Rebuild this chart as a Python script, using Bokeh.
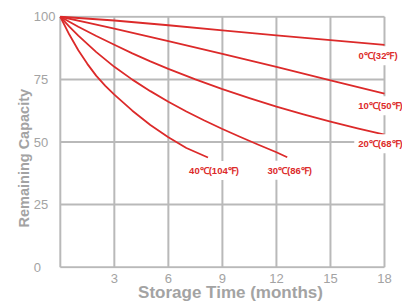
from bokeh.plotting import figure
from bokeh.models import Range1d, FixedTicker, Label, Title
from bokeh.embed import file_html
from bokeh.resources import INLINE

# ---- data ----
months_0 = [0, 3, 6, 9, 12, 15, 18]
cap_0 = [100, 98.5, 96.6, 94.6, 92.6, 90.7, 88.8]
months_10 = [0, 1.5, 3, 4.5, 6, 9, 12, 15, 18]
cap_10 = [100, 97.7, 95.3, 92.8, 90.3, 85.2, 80, 74.6, 69.3]
months_20 = [0, 1, 2, 3, 4, 5, 6, 7.5, 9, 10.5, 12, 13.5, 15, 16.5, 18]
cap_20 = [100, 96.0, 92.3, 88.8, 85.4, 82.2, 79.2, 75.0, 71.1, 67.5, 64.1, 61.0, 58.1, 55.4, 52.9]
months_30 = [0, 0.5, 1, 2, 3, 4, 5, 6, 7, 8, 9, 10, 11, 12, 12.6]
cap_30 = [100, 96.1, 92.5, 85.9, 80.0, 74.9, 70.3, 66.1, 62.2, 58.6, 55.2, 52.0, 48.9, 45.9, 43.9]
months_40 = [0, 0.5, 1, 1.5, 2, 2.5, 3, 4, 5, 6, 7, 8.2]
cap_40 = [100, 92.9, 86.6, 81.2, 76.4, 72.4, 68.9, 62.5, 56.8, 51.9, 47.6, 43.8]
series_labels = ["0℃(32℉)", "10℃(50℉)", "20℃(68℉)", "30℃(86℉)", "40℃(104℉)"]
x_ticks = [3, 6, 9, 12, 15, 18]
grid_x = [0, 3, 6, 9, 12, 15, 18]
y_ticks = [0, 25, 50, 75, 100]
y_tick_labels = ["0", "25", "50", "75", "100"]

RED = "#dc2a2a"
GRID = "#b9b9b9"
TXT = "#a3a3a3"
FONT = "Liberation Sans"

p = figure(width=402, height=305, output_backend="svg", toolbar_location=None,
           x_range=Range1d(-0.1, 19), y_range=Range1d(-0.5, 100.5),
           min_border_left=58, min_border_right=0, min_border_top=15, min_border_bottom=37)
p.background_fill_color = "white"
p.border_fill_color = "white"
p.outline_line_color = None
p.grid.visible = False

p.xaxis.ticker = FixedTicker(ticks=x_ticks)
p.yaxis.ticker = FixedTicker(ticks=y_ticks)
for ax in (p.xaxis[0], p.yaxis[0]):
    ax.axis_line_color = None
    ax.major_tick_line_color = None
    ax.minor_tick_line_color = None
    ax.major_tick_out = 0
    ax.major_tick_in = 0
    ax.major_label_text_color = TXT
    ax.major_label_text_font = FONT
    ax.major_label_text_font_size = "13px"
    ax.axis_label_text_color = TXT
    ax.axis_label_text_font = FONT
    ax.axis_label_text_font_style = "bold"

p.xaxis.major_label_standoff = 5
p.xaxis.axis_label = "Storage Time (months)"
p.xaxis.axis_label_text_font_size = "17px"
p.xaxis.axis_label_standoff = -3

# left-aligned looking y tick labels: pad with figure spaces
w = max(len(s) for s in y_tick_labels)
p.yaxis.major_label_overrides = {t: s + "\u2007" * (w - len(s)) for t, s in zip(y_ticks, y_tick_labels)}
p.yaxis.major_label_standoff = 3

p.add_layout(Title(text="Remaining Capacity", align="left", offset=41, standoff=-2,
                   text_font=FONT, text_font_style="bold", text_font_size="14.5px",
                   text_color=TXT), "left")

# grid (bounded to the chart area)
p.segment(x0=grid_x, y0=[y_ticks[0]] * len(grid_x), x1=grid_x, y1=[y_ticks[-1]] * len(grid_x),
          line_color=GRID, line_width=2)
p.segment(x0=[grid_x[0]] * len(y_ticks), y0=y_ticks, x1=[grid_x[-1]] * len(y_ticks), y1=y_ticks,
          line_color=GRID, line_width=2)

series = [(months_0, cap_0), (months_10, cap_10), (months_20, cap_20),
          (months_30, cap_30), (months_40, cap_40)]
for xs, ys in series:
    p.line(xs, ys, line_color=RED, line_width=1.8, line_join="round")

# series labels, anchored at each curve's end
offsets = [(-6.5, -11), (-4, -12), (-4, -9), (2.5, -13), (6, -13)]
for (xs, ys), txt, (dx, dy) in zip(series, series_labels, offsets):
    p.add_layout(Label(x=xs[-1], y=ys[-1], x_offset=dx, y_offset=dy, text=txt,
                       text_align="center", text_baseline="middle",
                       text_font=FONT, text_font_style="bold",
                       text_font_size="9.5px", text_color=RED,
                       background_fill_color="white", padding=4))

open("out.html", "w").write(file_html(p, INLINE))
